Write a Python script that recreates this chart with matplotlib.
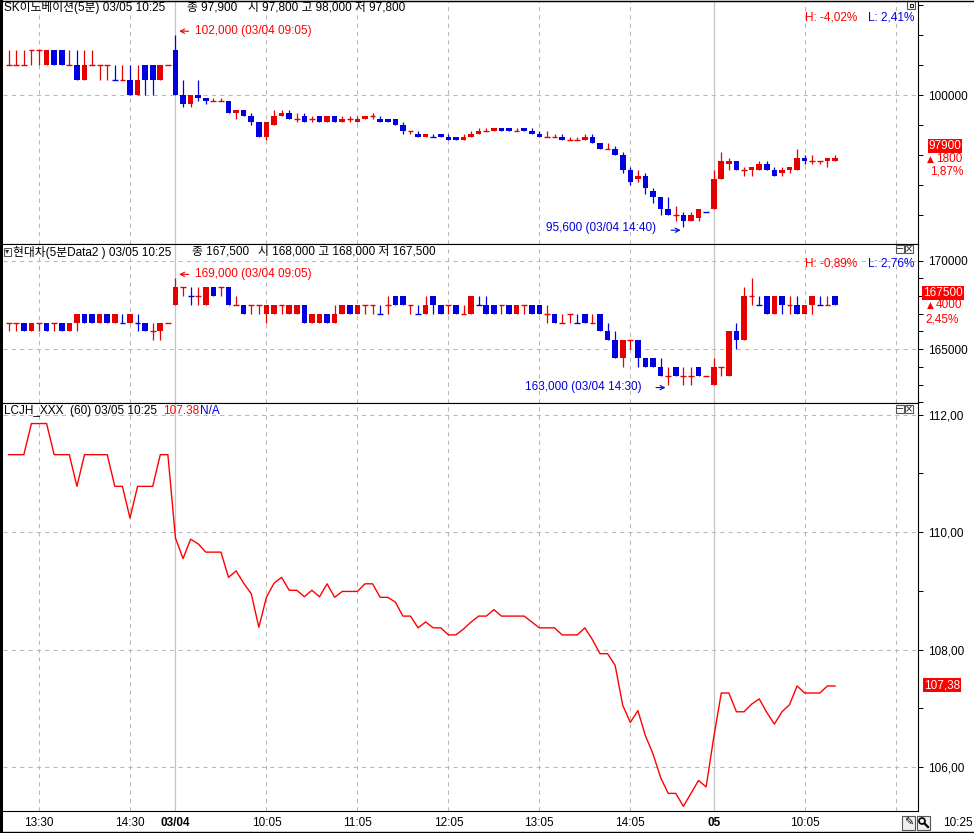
import matplotlib
matplotlib.use("Agg")
import matplotlib.pyplot as plt
from matplotlib.patches import Rectangle, Ellipse
from matplotlib.lines import Line2D
from matplotlib.transforms import offset_copy

plt.rcParams['font.family'] = ['Liberation Sans', 'DejaVu Sans', 'Noto Sans CJK KR']
plt.rcParams['font.size'] = 8.5

# ---- data: 5-minute bars, index 0 = 03/03 13:10 ... 109 = 03/05 10:25
sk_open = [
    101000, 101000, 101000, 101500, 101500, 101000, 101500, 101500, 101000, 101000,
    100500, 101000, 101000, 101000, 100500, 100500, 100500, 100000, 101000, 101000,
    100500, 101000, 101500, 100000, 99700, 100000, 99900, 99800, 99800, 99800,
    99400, 99500, 99300, 99100, 98600, 99000, 99300, 99400, 99200, 99300,
    99200, 99300, 99100, 99300, 99100, 99200, 99100, 99200, 99300, 99200,
    99200, 99200, 99000, 98800, 98700, 98600, 98600, 98700, 98600, 98600,
    98500, 98600, 98700, 98800, 98800, 98900, 98900, 98800, 98900, 98800,
    98700, 98600, 98600, 98600, 98500, 98500, 98500, 98600, 98400, 98200,
    98200, 98000, 97500, 97200, 97300, 96800, 96600, 96200, 96000, 96000,
    95800, 95900, 96100, 96200, 97200, 97700, 97800, 97500, 97500, 97500,
    97700, 97500, 97400, 97500, 97500, 97900, 97800, 97800, 97800, 97800]
sk_high = [
    101500, 101500, 101500, 101500, 101500, 101500, 101500, 101500, 101500, 101500,
    101500, 101500, 101000, 101000, 101000, 101000, 101000, 101000, 101000, 101000,
    101000, 101000, 102000, 100500, 100000, 100500, 99900, 99900, 99900, 99800,
    99500, 99500, 99400, 99100, 99100, 99500, 99500, 99500, 99400, 99400,
    99300, 99300, 99300, 99300, 99300, 99300, 99300, 99300, 99400, 99300,
    99200, 99200, 99100, 98800, 98800, 98700, 98700, 98700, 98700, 98600,
    98700, 98800, 98900, 98900, 98900, 98900, 98900, 98900, 98900, 98900,
    98800, 98800, 98700, 98700, 98600, 98600, 98700, 98700, 98400, 98400,
    98300, 98100, 97600, 97500, 97400, 96900, 96600, 96600, 96300, 96100,
    96100, 96200, 96100, 97500, 98100, 97900, 97800, 97600, 97600, 97800,
    97800, 97600, 97600, 97600, 98200, 98000, 98000, 97800, 97900, 98000]
sk_low = [
    101000, 101000, 101000, 101000, 101000, 101000, 101000, 101000, 101000, 100500,
    100500, 101000, 100500, 100500, 100500, 100500, 100000, 100000, 100000, 100000,
    100500, 101000, 100000, 99600, 99600, 99800, 99700, 99800, 99800, 99400,
    99200, 99300, 99000, 98600, 98500, 99000, 99300, 99200, 99100, 99100,
    99100, 99100, 99100, 99100, 99100, 99100, 99100, 99200, 99200, 99100,
    99100, 99000, 98700, 98700, 98600, 98600, 98600, 98600, 98500, 98500,
    98500, 98600, 98700, 98800, 98800, 98800, 98800, 98800, 98800, 98700,
    98600, 98600, 98600, 98500, 98500, 98500, 98500, 98400, 98200, 98200,
    98000, 97400, 97000, 97100, 96700, 96400, 96000, 96000, 95800, 95600,
    95800, 95800, 96100, 96200, 97200, 97500, 97500, 97300, 97300, 97500,
    97500, 97300, 97300, 97400, 97500, 97700, 97700, 97700, 97600, 97800]
sk_close = [
    101000, 101000, 101000, 101500, 101500, 101500, 101000, 101000, 101000, 100500,
    101000, 101000, 101000, 101000, 100500, 100500, 100000, 100500, 100500, 100500,
    101000, 101000, 100000, 99700, 100000, 99900, 99800, 99800, 99800, 99400,
    99500, 99300, 99100, 98600, 99100, 99300, 99400, 99200, 99200, 99100,
    99200, 99100, 99300, 99100, 99200, 99200, 99200, 99300, 99300, 99100,
    99100, 99000, 98800, 98800, 98600, 98700, 98600, 98600, 98500, 98500,
    98600, 98700, 98800, 98800, 98900, 98800, 98800, 98800, 98800, 98700,
    98600, 98600, 98600, 98500, 98500, 98500, 98600, 98400, 98200, 98200,
    98000, 97500, 97100, 97300, 96900, 96600, 96200, 96000, 96000, 95800,
    96000, 96200, 96100, 97200, 97800, 97800, 97500, 97500, 97600, 97700,
    97500, 97300, 97500, 97600, 97900, 97800, 97800, 97800, 97900, 97900]

hd_open = [
    166500, 166500, 166500, 166000, 166500, 166500, 166500, 166500, 166000, 166500,
    167000, 167000, 166500, 167000, 166500, 166500, 166500, 166500, 166500, 166000,
    166000, 166500, 167500, 168500, 168000, 168000, 167500, 168500, 168500, 168500,
    167500, 167500, 167500, 167500, 167000, 167000, 167500, 167000, 167000, 167500,
    166500, 166500, 167000, 166500, 167000, 167500, 167000, 167500, 167500, 167000,
    167500, 168000, 168000, 167500, 167000, 167000, 168000, 167500, 167500, 167500,
    167000, 167000, 167500, 167500, 167500, 167500, 167500, 167000, 167500, 167500,
    167500, 167000, 167000, 166500, 167000, 166500, 167000, 166500, 167000, 166000,
    165500, 164500, 165500, 165500, 164500, 164500, 164000, 163500, 164000, 163500,
    163500, 164000, 163500, 163000, 164000, 163500, 166000, 165500, 168000, 167500,
    168000, 167000, 168000, 167500, 167500, 167000, 167500, 167500, 167500, 168000]
hd_high = [
    166500, 166500, 166500, 166500, 166500, 166500, 166500, 166500, 166500, 167000,
    167000, 167000, 167000, 167000, 167000, 167000, 167000, 167000, 166500, 166500,
    166500, 166500, 169000, 168500, 168500, 168500, 168500, 168500, 168500, 168500,
    168000, 167500, 167500, 167500, 167500, 167500, 167500, 167500, 167500, 167500,
    167000, 167000, 167000, 167500, 167500, 167500, 167500, 167500, 167500, 167500,
    168000, 168000, 168000, 167500, 167500, 168000, 168000, 167500, 167500, 167500,
    167500, 168000, 168000, 168000, 167500, 167500, 167500, 167500, 167500, 167500,
    167500, 167500, 167000, 167000, 167000, 167000, 167000, 167000, 167000, 166500,
    166000, 165500, 165500, 165500, 164500, 164500, 164500, 164000, 164000, 164000,
    164000, 164000, 163500, 164500, 164000, 166000, 166500, 168500, 169000, 168000,
    168000, 168000, 168000, 168000, 168000, 167500, 168000, 168000, 168000, 168000]
hd_low = [
    166000, 166000, 166000, 166000, 166000, 166000, 166000, 166000, 166000, 166000,
    166500, 166500, 166500, 166500, 166500, 166500, 166500, 166000, 166000, 165500,
    165500, 166500, 167500, 168000, 167500, 167500, 167500, 168000, 168000, 167500,
    167500, 167000, 167000, 167000, 166500, 167000, 167000, 167000, 167000, 166500,
    166500, 166500, 166500, 166500, 167000, 167000, 167000, 167000, 167000, 167000,
    167000, 167500, 167500, 167000, 167000, 167000, 167000, 167000, 167000, 167000,
    167000, 167000, 167500, 167000, 167000, 167000, 167000, 167000, 167000, 167000,
    167000, 166500, 166500, 166500, 166500, 166500, 166500, 166500, 166000, 165500,
    164500, 164000, 165000, 164000, 164000, 164000, 163500, 163000, 163500, 163000,
    163000, 163500, 163500, 163000, 163500, 163500, 165000, 165500, 167500, 167500,
    167000, 167000, 167000, 167000, 167000, 167000, 167000, 167500, 167500, 167500]
hd_close = [
    166500, 166500, 166000, 166500, 166500, 166000, 166500, 166000, 166500, 167000,
    166500, 166500, 167000, 166500, 167000, 166500, 167000, 166500, 166000, 166000,
    166500, 166500, 168500, 168500, 168000, 168000, 168500, 168000, 168500, 167500,
    167500, 167000, 167500, 167500, 167500, 167500, 167500, 167500, 167500, 166500,
    167000, 167000, 166500, 167000, 167500, 167000, 167500, 167500, 167500, 167000,
    167500, 167500, 167500, 167500, 167000, 167500, 167500, 167000, 167500, 167000,
    167000, 168000, 167500, 167000, 167000, 167500, 167000, 167500, 167500, 167000,
    167000, 167000, 166500, 166500, 167000, 166500, 166500, 166500, 166000, 165500,
    164500, 165500, 165500, 164500, 164000, 164000, 163500, 163500, 163500, 163500,
    163500, 163500, 163500, 164000, 164000, 166000, 165500, 168000, 168000, 167500,
    167000, 168000, 167500, 167500, 167000, 167500, 168000, 167500, 167500, 167500]

lcjh = [
    111.32, 111.32, 111.32, 111.85, 111.85, 111.85, 111.32, 111.32, 111.32, 110.78,
    111.32, 111.32, 111.32, 111.32, 110.78, 110.78, 110.24, 110.78, 110.78, 110.78,
    111.32, 111.32, 109.90, 109.55, 109.88, 109.80, 109.66, 109.66, 109.66, 109.23,
    109.34, 109.13, 108.95, 108.38, 108.89, 109.13, 109.23, 109.01, 109.01, 108.90,
    109.01, 108.90, 109.12, 108.89, 108.99, 108.99, 108.99, 109.12, 109.12, 108.89,
    108.89, 108.81, 108.57, 108.57, 108.37, 108.47, 108.37, 108.37, 108.25, 108.25,
    108.35, 108.47, 108.57, 108.57, 108.68, 108.57, 108.57, 108.57, 108.57, 108.47,
    108.37, 108.37, 108.37, 108.25, 108.25, 108.25, 108.37, 108.17, 107.93, 107.93,
    107.73, 107.05, 106.76, 106.96, 106.53, 106.22, 105.82, 105.55, 105.55, 105.33,
    105.55, 105.77, 105.66, 106.50, 107.26, 107.26, 106.94, 106.94, 107.07, 107.16,
    106.93, 106.73, 106.94, 107.06, 107.38, 107.26, 107.26, 107.26, 107.38, 107.38]

sk_prev_close = 96100
hd_prev_close = 163500

# time axis
tick_idx = [4, 16, 22, 34, 46, 58, 70, 82, 93, 105]
tick_lbl = ['13:30', '14:30', '03/04', '10:05', '11:05', '12:05', '13:05', '14:05', '05', '10:05']
day_idx = [22, 93]
hour_idx = [4, 16, 34, 46, 58, 70, 82, 105, 117]

RED = '#e60000'
BLUE = '#0000e0'
GRID = '#b8b8b8'

W, H = 974, 833
fig = plt.figure(figsize=(W / 100, H / 100), dpi=100)
fig.patch.set_facecolor('white')


def panel(top, bottom):
    return fig.add_axes([3 / W, 1 - bottom / H, 915 / W, (bottom - top) / H])


def ptext(x, y, s, **kw):
    kw.setdefault('va', 'center')
    return fig.text(x / W, 1 - y / H, s, **kw)


def fmt_comma(v):
    return f"{v:.2f}".replace('.', ',')


ax1 = panel(1, 244)
ax2 = panel(244, 403)
ax3 = panel(403, 811)
axes = [ax1, ax2, ax3]

ax1.set_ylim(95040, 103140)
ax2.set_ylim(161960, 170940)
ax3.set_ylim(105.25, 112.2)


def draw_candles(ax, o, h, l, c):
    prev = None
    for i, (oo, hh, ll, cc) in enumerate(zip(o, h, l, c)):
        if cc > oo:
            col = RED
        elif cc < oo:
            col = BLUE
        else:
            col = RED if prev is None or cc >= prev else BLUE
        if hh > ll:
            ax.vlines(i, ll, hh, color=col, lw=0.9)
        if cc != oo:
            ax.bar(i, cc - oo, bottom=oo, width=0.74, color=col, linewidth=0)
        else:
            ax.hlines(cc, i - 0.38, i + 0.38, color=col, lw=1.0)
        prev = cc


draw_candles(ax1, sk_open, sk_high, sk_low, sk_close)
draw_candles(ax2, hd_open, hd_high, hd_low, hd_close)
ax3.plot(range(len(lcjh)), lcjh, color='#ff0000', lw=1.0)

# axes, ticks and grids
y_major = [[100000], [165000, 170000], [106, 108, 110, 112]]
y_minor = [list(range(96000, 103001, 1000)),
           list(range(162000, 170001, 1000)),
           [107, 109, 111]]
for ax, mj, mn in zip(axes, y_major, y_minor):
    ax.set_xlim(-0.75, 119.95)
    ax.yaxis.tick_right()
    ax.set_yticks(mj)
    ax.set_yticks(mn, minor=True)
    ax.tick_params(axis='y', which='both', direction='out', length=3.6, width=0.72,
                   pad=3.5, labelsize=8.5, colors='black')
    for s in ax.spines.values():
        s.set_linewidth(0.8)
        s.set_color('black')
    ax.spines['left'].set_visible(False)
    for y in mj:
        ax.axhline(y, color=GRID, lw=0.75, ls=(0, (4, 4)), zorder=0)
    for x in hour_idx:
        ax.axvline(x, color=GRID, lw=0.75, ls=(0, (4, 4)), zorder=0)
    for x in day_idx:
        ax.axvline(x, color='#c4c4c4', lw=0.9, zorder=0)
    ax.set_xticks([])

ax1.set_yticklabels([str(v) for v in y_major[0]])
ax2.set_yticklabels([str(v) for v in y_major[1]])
ax3.set_yticklabels([fmt_comma(v) for v in y_major[2]])

ax3.set_xticks(tick_idx)
ax3.set_xticklabels(tick_lbl)
ax3.tick_params(axis='x', length=0, pad=4, labelsize=8.5)
for t, x in zip(ax3.get_xticklabels(), tick_idx):
    if x in day_idx:
        t.set_fontweight('bold')

ARROW = dict(arrowstyle='->,head_length=0.35,head_width=0.18', lw=0.8)


# high / low markers
def mark_high(ax, h, when):
    i = h.index(max(h))
    tip = offset_copy(ax.transData, fig=fig, x=1, y=4, units='dots')
    ax.annotate('', xy=(i, h[i]), xycoords=tip, xytext=(15, 0), textcoords='offset pixels',
                arrowprops=dict(ARROW, color=RED))
    ax.annotate(f"{max(h):,} ({when})", xy=(i, h[i]), xytext=(20, 4),
                textcoords='offset pixels', color='#ff0000', va='center', ha='left')


def mark_low(ax, l, when, dx_text, dy_text):
    i = l.index(min(l))
    tip = offset_copy(ax.transData, fig=fig, x=0, y=-3, units='dots')
    ax.annotate('', xy=(i, l[i]), xycoords=tip, xytext=(-15, 0), textcoords='offset pixels',
                arrowprops=dict(ARROW, color=BLUE))
    ax.annotate(f"{min(l):,} ({when})", xy=(i, l[i]), xytext=(dx_text, dy_text),
                textcoords='offset pixels', color=BLUE, va='center', ha='right')


mark_high(ax1, sk_high, '03/04 09:05')
mark_high(ax2, hd_high, '03/04 09:05')
mark_low(ax1, sk_low, '03/04 14:40', -27, -1)
mark_low(ax2, hd_low, '03/04 14:30', -27, -2)

# headers
ptext(4, 8, "SK이노베이션(5분) 03/05 10:25")
ptext(187, 8, f"종 {sk_close[-1]:,}")
ptext(248, 8, f"시 {sk_open[-1]:,} 고 {sk_high[-1]:,} 저 {sk_low[-1]:,}")

fig.add_artist(Rectangle((4 / W, 1 - 256 / H), 7 / W, 8 / H, transform=fig.transFigure,
                         fc='white', ec='#555555', lw=0.7))
ptext(7.5, 252, "▾", fontsize=6, ha='center', color='#333333')
ptext(13, 252, "현대차(5분Data2 ) 03/05 10:25")
ptext(192, 252, f"종 {hd_close[-1]:,}")
ptext(258, 252, f"시 {hd_open[-1]:,} 고 {hd_high[-1]:,} 저 {hd_low[-1]:,}")

ptext(4, 411, "LCJH_XXX  (60) 03/05 10:25")
ptext(163, 411, f"{lcjh[-1]:.2f}", color='#ff0000')
ptext(200, 411, "N/A", color=BLUE)

# high / low percentages
for y, c, h, l in [(18, sk_close, sk_high, sk_low), (264, hd_close, hd_high, hd_low)]:
    hp = (c[-1] / max(h) - 1) * 100
    lp = (c[-1] / min(l) - 1) * 100
    ptext(857, y, f"H: {fmt_comma(hp)}%", color='#ff0000', ha='right')
    ptext(914, y, f"L: {fmt_comma(lp)}%", color=BLUE, ha='right')

# current price boxes on the right axis
box = dict(boxstyle='square,pad=0.08', fc='#ff0000', ec='none')
ptext(945, 146, f"{sk_close[-1]}", color='white', ha='center', bbox=box)
ptext(930, 159, "▲", color='#ff0000', ha='center', fontsize=6.5, family=['DejaVu Sans'])
ptext(962, 159, f"{sk_close[-1] - sk_prev_close}", color='#ff0000', ha='right')
ptext(963, 172, f"{fmt_comma((sk_close[-1] / sk_prev_close - 1) * 100)}%", color='#ff0000',
      ha='right')

ptext(943, 293, f"{hd_close[-1]}", color='white', ha='center', bbox=box)
ptext(930, 305, "▲", color='#ff0000', ha='center', fontsize=6.5, family=['DejaVu Sans'])
ptext(962, 305, f"{hd_close[-1] - hd_prev_close}", color='#ff0000', ha='right')
ptext(959, 319, f"{fmt_comma((hd_close[-1] / hd_prev_close - 1) * 100)}%", color='#ff0000',
      ha='right')

ptext(942, 685, fmt_comma(lcjh[-1]), color='white', ha='center', bbox=box)


# little window buttons
def button(x, y, s=None):
    fig.add_artist(Rectangle((x / W, 1 - (y + 8) / H), 8 / W, 8 / H, transform=fig.transFigure,
                             fc='white', ec='#555555', lw=0.8))
    if s:
        ptext(x + 4, y + 4, s, ha='center', fontsize=7, color='#222222',
              family=['DejaVu Sans'])


button(907, 1)
fig.add_artist(Rectangle((909.5 / W, 1 - 6.5 / H), 3 / W, 3 / H, transform=fig.transFigure,
                         fc='white', ec='#222222', lw=0.8))
button(896, 245, "−")
button(905, 245, "×")
button(896, 405, "−")
button(905, 405, "×")

# pencil and magnifier buttons in the time-axis row
for x in (902, 917):
    fig.add_artist(Rectangle((x / W, 1 - 830 / H), 13 / W, 14 / H, transform=fig.transFigure,
                             fc='#f0f0f0', ec='#555555', lw=0.8))
ptext(908.5, 823, "✎", ha='center', fontsize=8, color='black', family=['DejaVu Sans'])
fig.add_artist(Ellipse((922 / W, 1 - 821 / H), 6 / W, 6 / H, transform=fig.transFigure,
                       fc='none', ec='black', lw=1.2))
fig.add_artist(Line2D([924.5 / W, 928 / W], [1 - 823.5 / H, 1 - 827 / H],
                      transform=fig.transFigure, color='black', lw=1.6))
ptext(943, 823, "10:25", ha='left')

# outer frame
fig.add_artist(Rectangle((0, 0), 3 / W, 1, transform=fig.transFigure, fc='black', ec='none'))
fig.add_artist(Line2D([0, 1], [1 - 0.5 / H, 1 - 0.5 / H], transform=fig.transFigure,
                      color='black', lw=1))
fig.add_artist(Line2D([0, 1], [1.5 / H, 1.5 / H], transform=fig.transFigure,
                      color='black', lw=1))

fig.savefig("out.png", dpi=100)
